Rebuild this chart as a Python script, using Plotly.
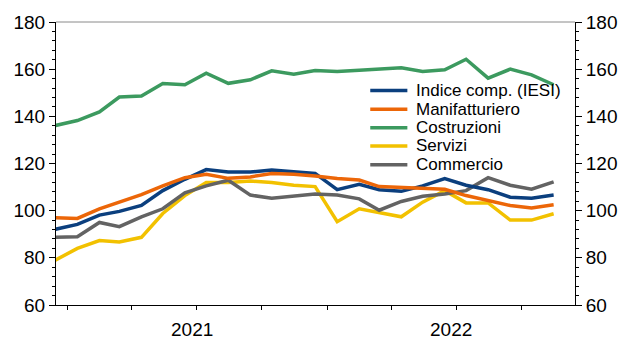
import plotly.graph_objects as go
import pandas as pd

months = pd.date_range("2020-12-01", periods=24, freq="MS") + pd.Timedelta(days=14)

iesi = [92.1, 94.2, 98.1, 99.7, 102.2, 108.5, 113.3, 117.4, 116.4, 116.4, 117.2, 116.4,
        115.8, 108.9, 111.2, 108.9, 108.2, 110.5, 113.6, 110.8, 108.9, 105.7, 105.3, 106.6]
manifatturiero = [97.0, 96.7, 100.8, 103.6, 106.8, 110.5, 114.0, 115.4, 113.7, 114.3, 115.8, 115.4,
                  114.7, 113.6, 113.0, 110.2, 109.8, 109.4, 109.1, 106.4, 104.3, 102.2, 101.1, 102.5]
costruzioni = [136.1, 138.2, 141.9, 148.2, 148.6, 153.9, 153.4, 158.3, 154.0, 155.5, 159.3, 157.9,
               159.4, 159.0, 159.5, 160.0, 160.6, 159.0, 159.7, 164.2, 156.2, 160.0, 157.6, 153.4]
servizi = [79.0, 84.0, 87.3, 86.7, 88.7, 98.8, 106.4, 111.9, 111.9, 112.6, 111.9, 110.8,
           110.2, 95.3, 100.8, 99.2, 97.4, 103.6, 108.5, 103.3, 103.3, 96.0, 96.0, 98.7]
commercio = [88.7, 88.9, 95.0, 93.2, 97.4, 100.8, 107.6, 110.5, 112.9, 106.6, 105.3, 106.4,
             107.1, 106.6, 105.0, 100.2, 103.9, 106.1, 107.1, 108.5, 114.0, 110.8, 109.1, 112.2]

names = ["Indice comp. (IESI)", "Manifatturiero", "Costruzioni", "Servizi", "Commercio"]
colors = ["#0B3F7E", "#EC6608", "#3C9A5F", "#F2C100", "#636363"]
series = [iesi, manifatturiero, costruzioni, servizi, commercio]

quarter_ticks = pd.date_range("2021-01-01", "2022-10-01", freq="QS")
year_labels = ["2021", "2022"]
year_pos = ["2021-06-25", "2022-06-24"]

FONT = "Liberation Sans, Arial, sans-serif"

fig = go.Figure()
draw_order = [3, 4, 0, 1]
for i in draw_order:
    fig.add_trace(go.Scatter(x=months, y=series[i], mode="lines", name=names[i],
                             line=dict(color=colors[i], width=3.5), showlegend=False))
# Costruzioni on the right-hand (identical) axis so that axis is drawn
fig.add_trace(go.Scatter(x=months, y=costruzioni, mode="lines", name=names[2], yaxis="y2",
                         line=dict(color=colors[2], width=3.5), showlegend=False))

# manual legend
leg_y = [0.758, 0.692, 0.626, 0.562, 0.496]
for i in range(5):
    fig.add_shape(type="line", xref="paper", yref="paper", x0=0.6055, x1=0.677,
                  y0=leg_y[i], y1=leg_y[i], line=dict(color=colors[i], width=3.5))
    fig.add_annotation(xref="paper", yref="paper", x=0.689, y=leg_y[i], text=names[i],
                       showarrow=False, xanchor="left", yanchor="middle",
                       font=dict(size=17, color="#000000", family=FONT))

for lab, pos in zip(year_labels, year_pos):
    fig.add_annotation(xref="x", yref="paper", x=pos, y=-0.087, text=lab, showarrow=False,
                       xanchor="center", yanchor="middle",
                       font=dict(size=19, color="#000000", family=FONT))

fig.add_shape(type="line", xref="paper", yref="paper", x0=0, x1=1, y0=1, y1=1,
              line=dict(color="#8a8a8a", width=1))

axis_common = dict(range=[60, 180], dtick=20, tick0=60, showgrid=False, zeroline=False,
                   showline=True, linecolor="#000000", linewidth=1,
                   ticks="outside", ticklen=6, tickcolor="#000000", tickwidth=1,
                   tickfont=dict(size=19, color="#000000", family=FONT),
                   minor=dict(dtick=4, ticks="outside", ticklen=3, tickcolor="#000000", tickwidth=1))

fig.update_layout(
    width=630, height=340,
    margin=dict(l=56, r=51, t=16, b=35),
    paper_bgcolor="white", plot_bgcolor="white",
    font=dict(family=FONT, color="#000000"),
    xaxis=dict(range=["2020-12-16", "2022-12-15"], tickvals=list(quarter_ticks),
               ticktext=[""] * len(quarter_ticks), ticks="outside", ticklen=4,
               tickcolor="#000000", showline=True, linecolor="#000000", linewidth=1,
               showgrid=False, zeroline=False),
    yaxis=dict(side="left", **axis_common),
    yaxis2=dict(side="right", overlaying="y", anchor="x", **axis_common),
)

fig.write_html("out.html")
